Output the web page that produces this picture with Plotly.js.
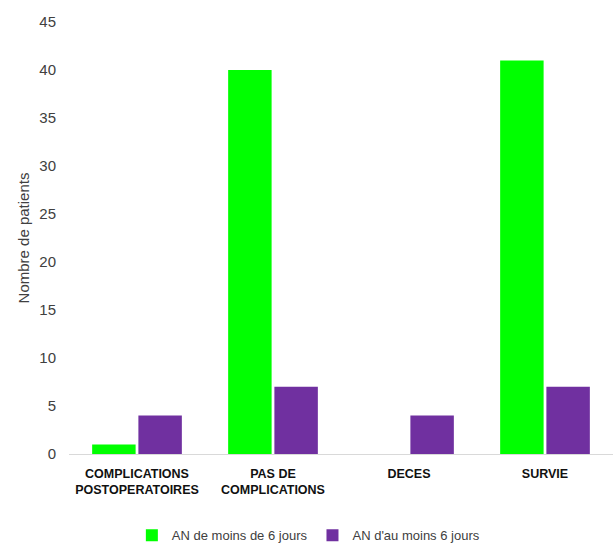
<!DOCTYPE html>
<html><head><meta charset="utf-8">
<script src="https://cdn.plot.ly/plotly-3.0.1.min.js"></script>
<style>body{margin:0;background:#fff}#c{width:615px;height:552px}</style>
</head><body><div id="c"></div>
<script>
var categories = ["COMPLICATIONS<br>POSTOPERATOIRES", "PAS DE<br>COMPLICATIONS", "DECES", "SURVIE"];
var seriesNames = ["AN de moins de 6 jours", "AN d'au moins 6 jours"];
var lessThan6 = [1, 40, 0, 41];
var atLeast6 = [4, 7, 4, 7];
var yTicks = [0, 5, 10, 15, 20, 25, 30, 35, 40, 45];

var data = [
  {type: 'bar', name: seriesNames[0], x: categories, y: lessThan6, marker: {color: '#00FF00'}},
  {type: 'bar', name: seriesNames[1], x: categories, y: atLeast6, marker: {color: '#7030A0'}}
];
var layout = {
  width: 615, height: 552,
  margin: {l: 69, r: 2, t: 22, b: 94},
  paper_bgcolor: '#fff', plot_bgcolor: '#fff',
  barmode: 'group', bargap: 0.32, bargroupgap: 0.06,
  font: {family: 'Arial, Liberation Sans, sans-serif', color: '#404040'},
  xaxis: {
    showgrid: false, showline: true, linecolor: '#D9D9D9', linewidth: 1,
    ticks: '', tickfont: {size: 12.5, color: '#111', weight: 'bold'},
    ticklabelstandoff: 8, zeroline: false
  },
  yaxis: {
    range: [0, 45], tickvals: yTicks, showgrid: false, zeroline: false, showline: false,
    ticks: '', tickfont: {size: 15, color: '#404040'}, ticklabelstandoff: 12,
    title: {text: 'Nombre de patients', font: {size: 15, color: '#404040'}, standoff: 6}
  },
  showlegend: true,
  legend: {orientation: 'h', x: 0.44, xanchor: 'center', y: -0.188, yanchor: 'middle',
    font: {size: 13, color: '#404040'}, itemwidth: 30, traceorder: 'normal'}
};
Plotly.newPlot('c', data, layout, {staticPlot: true});
</script></body></html>
